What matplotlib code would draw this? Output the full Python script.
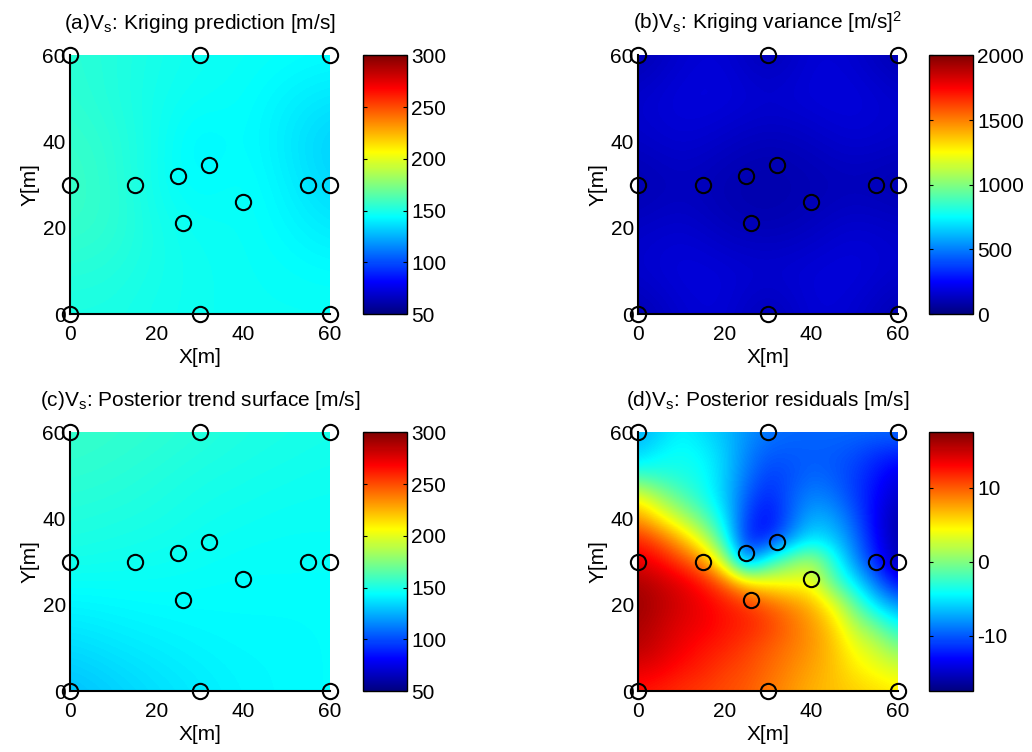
import numpy as np
import matplotlib
matplotlib.use('Agg')
import matplotlib.pyplot as plt
from matplotlib.colors import LinearSegmentedColormap

plt.rcParams['font.family'] = ['Liberation Sans', 'DejaVu Sans']
plt.rcParams['mathtext.fontset'] = 'custom'
plt.rcParams['mathtext.rm'] = 'Liberation Sans'
plt.rcParams['mathtext.it'] = 'Liberation Sans'
plt.rcParams['mathtext.default'] = 'regular'
plt.rcParams['axes.unicode_minus'] = False

# MATLAB style jet
mjet = LinearSegmentedColormap.from_list('mjet', [
    (0.0, (0, 0, 0.5)), (0.125, (0, 0, 1)), (0.375, (0, 1, 1)),
    (0.625, (1, 1, 0)), (0.875, (1, 0, 0)), (1.0, (0.5, 0, 0))], N=256)

# sample locations [m]
pts_x = [0, 30, 60, 0, 15, 25, 32, 26, 40, 55, 60, 0, 30, 60]
pts_y = [0, 0, 0, 30, 30, 32, 34.5, 21, 26, 30, 30, 60, 60, 60]

# grid nodes (rows go from Y=60 at top down to Y=0)
coarse = [0, 10, 20, 30, 40, 50, 60]
fine = [0, 5, 10, 15, 20, 25, 30, 35, 40, 45, 50, 55, 60]

# (a) kriging prediction [m/s]
pred = [
    [154, 152, 149, 147, 146, 145, 144],
    [155, 152, 148, 146, 145, 141, 138],
    [157, 154, 148, 141, 145, 139, 132],
    [158, 155, 147, 143, 146, 141, 134],
    [157, 155, 149, 146, 146, 143, 139],
    [153, 152, 149, 147, 146, 145, 144],
    [150, 150, 148, 147, 146, 146, 146],
]

# (b) kriging variance [m/s]^2
var = [
    [90, 160, 180, 90, 180, 160, 90],
    [160, 190, 190, 170, 185, 190, 160],
    [140, 170, 140, 110, 130, 170, 145],
    [90, 125, 95, 85, 100, 110, 90],
    [140, 165, 120, 100, 125, 170, 145],
    [160, 190, 180, 170, 180, 190, 160],
    [90, 160, 180, 90, 180, 160, 90],
]

# (c) posterior trend surface [m/s]
trend = [
    [157, 156, 155, 153, 151, 150, 149],
    [155, 154, 152, 150, 149, 148, 147],
    [152, 151, 150, 148, 147, 146, 146],
    [149, 148, 147, 146, 145, 145, 145],
    [142, 143, 144, 144, 144, 144, 144],
    [135, 138, 140, 142, 143, 143, 144],
    [128, 132, 136, 139, 142, 143, 144],
]

# (d) posterior residuals [m/s]
resid = [
    [-7, -6, -4.5, -5.5, -6.5, -8, -9, -9.5, -9.5, -9.5, -9.5, -9.5, -9.5],
    [-6, -4.5, -4, -4.5, -6, -8.5, -10, -10, -10, -10, -10.5, -11.5, -12],
    [-2.5, -3, -3.5, -4, -6, -9, -11, -10.5, -9.5, -10, -11, -12.5, -14],
    [4, 1, -1.5, -3.5, -6, -10, -12, -10, -8.5, -9, -11, -13, -15],
    [8, 5, 2, -1, -5, -11, -13, -10, -7, -7.5, -10, -13.5, -16],
    [12, 10, 7, 3, -3, -12, -12, -8, -5, -6, -9, -13, -16],
    [14, 13, 11, 8.5, 2, -9, -3, 0, 2, -3, -8, -12, -16],
    [16, 15, 14, 12.5, 10, 6, 4.5, 4, 4, -1, -5, -9, -13],
    [16.5, 15.5, 14.5, 13.5, 12.5, 11.5, 10, 8.5, 7, 4, -1, -5.5, -8],
    [16, 15, 14, 13.5, 12.5, 12, 11, 9.5, 8, 6, 2, -0.5, -4],
    [15.5, 14.5, 13.5, 12.5, 12, 11, 10, 9, 8, 6.5, 4, 2.5, 0],
    [14, 13.5, 12.5, 12, 11, 10.5, 9.5, 8.5, 7.5, 6.5, 5, 4, 3],
    [12.5, 12, 11.5, 11, 10.5, 10, 9, 8, 7, 6.5, 6, 5.5, 5],
]

titles = [
    '(a)V$_s$: Kriging prediction [m/s]',
    '(b)V$_s$: Kriging variance [m/s]$^2$',
    '(c)V$_s$: Posterior trend surface [m/s]',
    '(d)V$_s$: Posterior residuals [m/s]',
]

fig = plt.figure(figsize=(10.32, 7.52), dpi=100)

left_x = [0.0678, 0.6182]
bottom_y = [0.5824, 0.0811]
w, h = 0.2519, 0.3440
cb_x = [0.3518, 0.9002]
fs = 15


def draw(i, field, nodes, vmin, vmax, ticks):
    col, row = i % 2, i // 2
    ax = fig.add_axes([left_x[col], bottom_y[row], w, h])
    cax = fig.add_axes([cb_x[col], bottom_y[row], 0.0426, h])
    step = nodes[1] - nodes[0]
    ext = [nodes[0] - step / 2, nodes[-1] + step / 2,
           nodes[0] - step / 2, nodes[-1] + step / 2]
    im = ax.imshow(np.array(field, dtype=float), cmap=mjet, vmin=vmin, vmax=vmax,
                   extent=ext, origin='upper', interpolation='bicubic', aspect='auto')
    ax.plot(pts_x, pts_y, 'o', mfc='none', mec='black', ms=11, mew=1.5, clip_on=False)
    ax.set_xlim(0, 60)
    ax.set_ylim(0, 60)
    ax.set_xticks([0, 20, 40, 60])
    ax.set_yticks([0, 20, 40, 60])
    ax.tick_params(axis='x', labelsize=fs, length=0, pad=8)
    ax.tick_params(axis='y', labelsize=fs, length=0, pad=3)
    ax.spines['top'].set_visible(False)
    ax.spines['right'].set_visible(False)
    ax.spines['left'].set_linewidth(1.5)
    ax.spines['bottom'].set_linewidth(1.5)
    ax.set_xlabel('X[m]', fontsize=fs, labelpad=3)
    ax.set_ylabel('Y[m]', fontsize=fs, labelpad=2)
    ax.set_title(titles[i], fontsize=fs, pad=19)

    cb = fig.colorbar(im, cax=cax, ticks=ticks)
    cb.outline.set_linewidth(1.0)
    cax.tick_params(labelsize=fs, direction='in', length=3, left=True, right=True, pad=3)


draw(0, pred, coarse, 50, 300, [50, 100, 150, 200, 250, 300])
draw(1, var, coarse, 0, 2000, [0, 500, 1000, 1500, 2000])
draw(2, trend, coarse, 50, 300, [50, 100, 150, 200, 250, 300])
draw(3, resid, fine, -17.5, 17.5, [-10, 0, 10])

fig.savefig('out.png', dpi=100)
